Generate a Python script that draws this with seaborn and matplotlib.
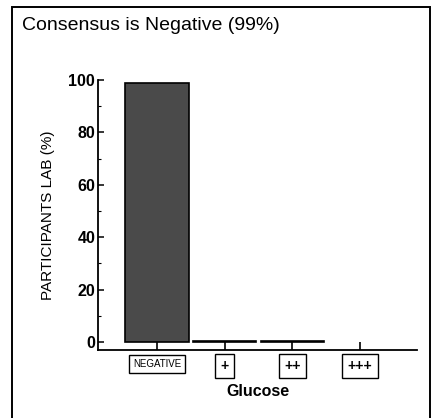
import matplotlib
matplotlib.use("Agg")
import matplotlib.pyplot as plt
from matplotlib.patches import Rectangle
from matplotlib.ticker import MultipleLocator
import seaborn as sns
import pandas as pd

# ---- data ----
categories = ["NEGATIVE", "+", "++", "+++"]
percent_participants = [99.0, 0.5, 0.5, 0.0]
title_text = "Consensus is Negative (99%)"
x_label = "Glucose"
y_label = "PARTICIPANTS LAB (%)"
y_ticks = [0, 20, 40, 60, 80, 100]

df = pd.DataFrame({"category": categories, "percent": percent_participants})

sns.set_style("ticks")
fam = ["Liberation Sans", "DejaVu Sans"]
plt.rcParams["font.family"] = fam
plt.rcParams["text.color"] = "black"
plt.rcParams["axes.labelcolor"] = "black"
plt.rcParams["xtick.color"] = "black"
plt.rcParams["ytick.color"] = "black"

fig = plt.figure(figsize=(4.32, 4.18), dpi=100)
fig.patch.set_facecolor("white")
ax = fig.add_axes([98 / 432, 1 - 350 / 418, (417 - 98) / 432, (350 - 80) / 418])

sns.barplot(data=df, x="category", y="percent", order=categories,
            color="#4a4a4a", saturation=1, width=0.94,
            edgecolor="black", linewidth=1.2, ax=ax)
for p in ax.patches:
    if p.get_height() == 0:
        p.set_linewidth(0)

ax.set_xlim(-0.87, 3.84)
ax.set_ylim(-3, 100)
ax.set_yticks(y_ticks)
ax.yaxis.set_minor_locator(MultipleLocator(10))

for s in ["top", "right"]:
    ax.spines[s].set_visible(False)
for s in ["left", "bottom"]:
    ax.spines[s].set_linewidth(1.3)
    ax.spines[s].set_color("black")

ax.tick_params(axis="y", which="major", direction="in", length=4, width=1.1,
               pad=2, labelsize=11.5, colors="black")
ax.tick_params(axis="y", which="minor", direction="in", length=2, width=0.8)
ax.tick_params(axis="x", direction="in", length=5.5, width=1.2, pad=6.5,
               colors="black")
for lab in ax.get_yticklabels():
    lab.set_fontweight("bold")

ax.set_xticks(range(len(categories)))
ax.set_xticklabels(categories)
for lab in ax.get_xticklabels():
    if lab.get_text() == "NEGATIVE":
        lab.set_fontsize(7)
        lab.set_bbox(dict(boxstyle="square,pad=0.4", fc="white", ec="black", lw=1.0))
    else:
        lab.set_fontsize(10)
        lab.set_fontweight("bold")
        lab.set_bbox(dict(boxstyle="square,pad=0.38", fc="white", ec="black", lw=1.0))

ax.set_xlabel(x_label, fontsize=11.5, fontweight="bold", va="center")
ax.xaxis.set_label_coords(0.5, -0.152)
ax.set_ylabel(y_label, fontsize=11, va="center")
ax.yaxis.set_label_coords(-0.157, 0.5)

fig.text(22 / 432, 1 - 30 / 418, title_text, fontsize=14,
         va="baseline", ha="left")

fig.patches.append(Rectangle((12 / 432, -0.05), (430 - 12) / 432, 1.05 - 7 / 418,
                             transform=fig.transFigure, fill=False,
                             ec="black", lw=1.4, zorder=10))

fig.savefig("out.png", dpi=100)
